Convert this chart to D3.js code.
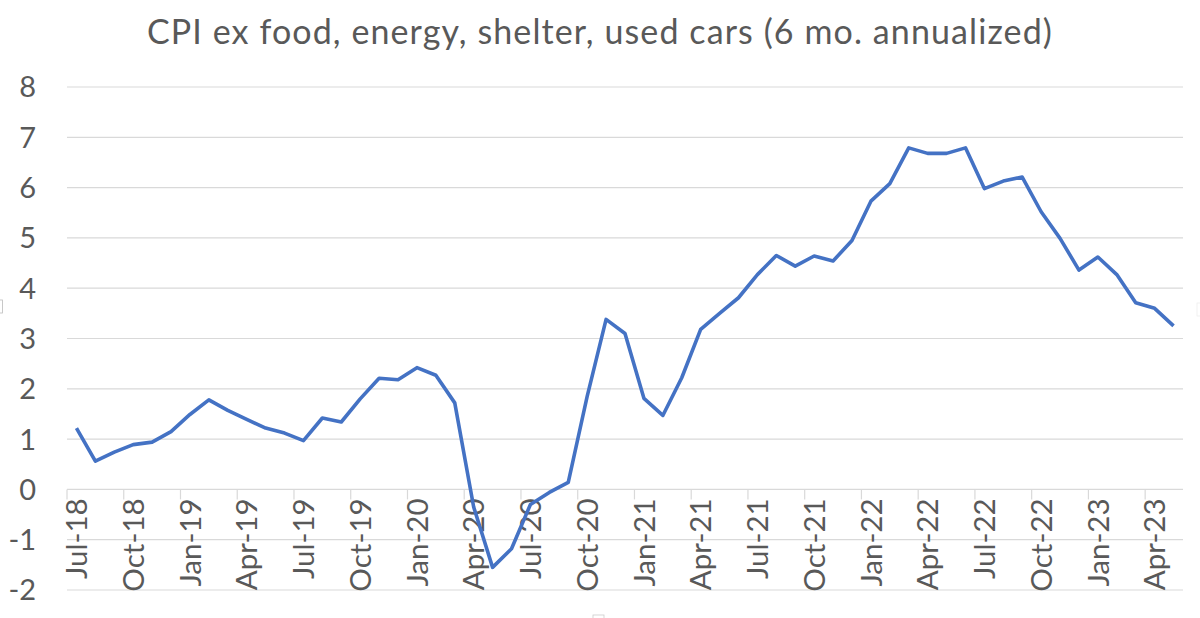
<!DOCTYPE html>
<html>
<head>
<meta charset="utf-8">
<script src="https://cdn.jsdelivr.net/npm/d3@7"></script>
<style>
  body { margin: 0; background: #fff; }
  svg text { font-family: Lato, "Open Sans", sans-serif; fill: #595959; }
</style>
</head>
<body>
<svg id="chart" width="1200" height="618"></svg>
<script>
const months = [
  "Jul-18","Aug-18","Sep-18","Oct-18","Nov-18","Dec-18",
  "Jan-19","Feb-19","Mar-19","Apr-19","May-19","Jun-19","Jul-19","Aug-19","Sep-19","Oct-19","Nov-19","Dec-19",
  "Jan-20","Feb-20","Mar-20","Apr-20","May-20","Jun-20","Jul-20","Aug-20","Sep-20","Oct-20","Nov-20","Dec-20",
  "Jan-21","Feb-21","Mar-21","Apr-21","May-21","Jun-21","Jul-21","Aug-21","Sep-21","Oct-21","Nov-21","Dec-21",
  "Jan-22","Feb-22","Mar-22","Apr-22","May-22","Jun-22","Jul-22","Aug-22","Sep-22","Oct-22","Nov-22","Dec-22",
  "Jan-23","Feb-23","Mar-23","Apr-23","May-23"
];

// 6 mo. annualized, %
const cpiValues = [
  1.22, 0.56, 0.74, 0.89, 0.94, 1.15,
  1.49, 1.78, 1.57, 1.39, 1.22, 1.12, 0.97, 1.42, 1.34, 1.80, 2.21, 2.18,
  2.42, 2.27, 1.72, -0.35, -1.55, -1.18, -0.30, -0.06, 0.14, 1.85, 3.38, 3.10,
  1.81, 1.47, 2.22, 3.18, 3.50, 3.81, 4.27, 4.65, 4.44, 4.64, 4.54, 4.95,
  5.73, 6.08, 6.79, 6.68, 6.68, 6.79, 5.98, 6.13, 6.21, 5.52, 4.99, 4.36,
  4.62, 4.27, 3.71, 3.60, 3.25
];

const yTicks = [-2, -1, 0, 1, 2, 3, 4, 5, 6, 7, 8];
const titleText = "CPI ex food, energy, shelter, used cars (6 mo. annualized)";

const svg = d3.select("#chart");
const plotLeft = 67, plotRight = 1183, plotTop = 87, plotBottom = 590;

const x = d3.scaleBand().domain(months).range([plotLeft, plotRight]).padding(0);
const y = d3.scaleLinear().domain([-2, 8]).range([plotBottom, plotTop]);

// title
svg.append("text")
  .attr("x", 600).attr("y", 44)
  .attr("text-anchor", "middle")
  .style("font-size", "34px")
  .style("letter-spacing", "1.1px")
  .text(titleText);

// horizontal gridlines
svg.append("g")
  .selectAll("line")
  .data(yTicks)
  .enter().append("line")
    .attr("x1", plotLeft).attr("x2", plotRight)
    .attr("y1", d => y(d)).attr("y2", d => y(d))
    .attr("stroke", "#d9d9d9").attr("stroke-width", 1.2);

// y labels
svg.append("g")
  .selectAll("text")
  .data(yTicks)
  .enter().append("text")
    .attr("x", 36).attr("y", d => y(d))
    .attr("dy", "0.36em")
    .attr("text-anchor", "end")
    .style("font-size", "29px")
    .text(d => d);

// category axis on the zero line: ticks every 3 months at band edges
const shown = months.filter((m, i) => i % 3 === 0);
const axisY = y(0);
svg.append("g")
  .selectAll("line")
  .data(shown)
  .enter().append("line")
    .attr("x1", d => x(d)).attr("x2", d => x(d))
    .attr("y1", axisY).attr("y2", axisY + 10)
    .attr("stroke", "#d9d9d9").attr("stroke-width", 1.2);

svg.append("g")
  .selectAll("text")
  .data(shown)
  .enter().append("text")
    .attr("transform", d => `translate(${x(d) + x.bandwidth() / 2},${axisY + 9}) rotate(-90)`)
    .attr("dy", "0.36em")
    .attr("text-anchor", "end")
    .style("font-size", "29.5px")
    .text(d => d);

// the series
const line = d3.line()
  .x((d, i) => x(months[i]) + x.bandwidth() / 2)
  .y(d => y(d));

svg.append("path")
  .datum(cpiValues)
  .attr("d", line)
  .attr("fill", "none")
  .attr("stroke", "#4472c4")
  .attr("stroke-width", 3.6)
  .attr("stroke-linejoin", "round");

// faint frame handles left by the spreadsheet
svg.append("rect").attr("x", -1).attr("y", 300).attr("width", 3.5).attr("height", 13)
  .attr("fill", "none").attr("stroke", "#bbb").attr("stroke-width", 0.8);
svg.append("rect").attr("x", 1197).attr("y", 303).attr("width", 4).attr("height", 13)
  .attr("fill", "none").attr("stroke", "#eee").attr("stroke-width", 0.8);
svg.append("rect").attr("x", 593).attr("y", 615).attr("width", 11).attr("height", 4)
  .attr("fill", "none").attr("stroke", "#ccc").attr("stroke-width", 0.8);
</script>
</body>
</html>
